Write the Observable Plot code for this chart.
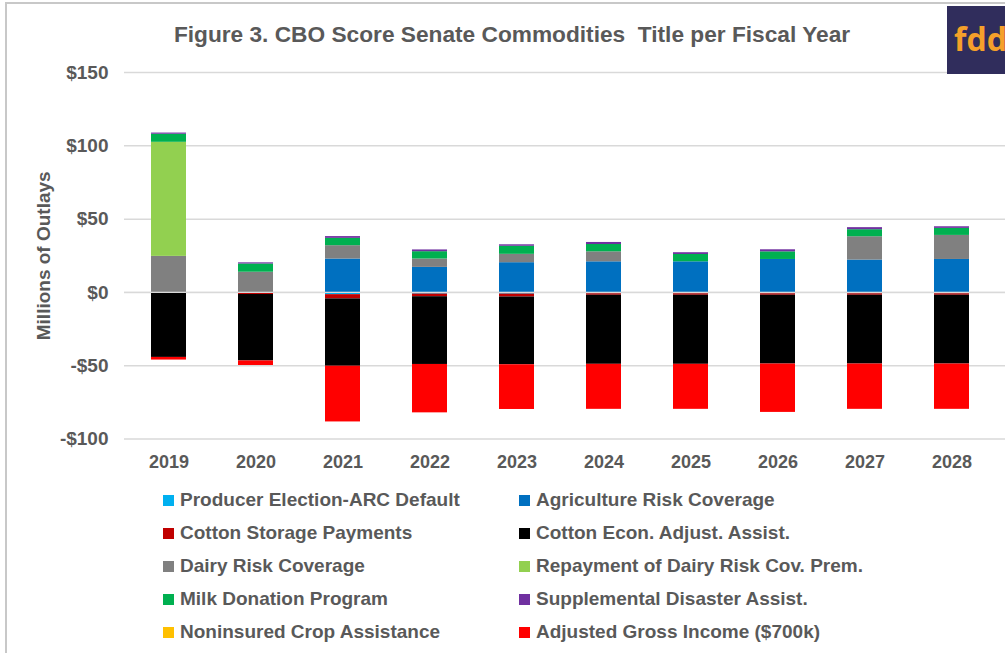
<!DOCTYPE html>
<html>
<head>
<meta charset="utf-8">
<script src="https://cdn.jsdelivr.net/npm/d3@7"></script>
<script src="https://cdn.jsdelivr.net/npm/@observablehq/plot@0.6"></script>
<style>
  html, body { margin: 0; padding: 0; background: #fff; }
  #wrap { position: relative; width: 1005px; height: 653px; overflow: hidden; background: #fff;
          font-family: "Liberation Sans", Arial, sans-serif; }
  #frame { position: absolute; left: 5px; top: 2px; width: 1100px; height: 700px;
           border-left: 2px solid #c8c8c8; border-top: 2px solid #c8c8c8; }
  #title { position: absolute; left: 0; width: 1024px; top: 21px; text-align: center;
           font-size: 22.7px; font-weight: bold; color: #595959; }
  #logo { position: absolute; left: 947px; top: 6px; width: 70px; height: 68px; background: #302D5C;
          color: #F5A02A; font-family: "Open Sans", sans-serif; font-weight: 700; font-size: 32px;
          line-height: 66px; padding-left: 7px; box-sizing: border-box; letter-spacing: 0px; }
  #chart { position: absolute; left: 0; top: 0; }
  .leg { position: absolute; font-size: 19px; font-weight: bold; color: #595959; white-space: nowrap; }
  .sw { position: absolute; width: 11px; height: 11px; }
</style>
</head>
<body>
<div id="wrap">
  <div id="frame"></div>
  <div id="chart"></div>
  <div id="title">Figure 3. CBO Score Senate Commodities&nbsp; Title per Fiscal Year</div>
  <div id="logo">fdd</div>
  <div id="legend"></div>
</div>
<script>
// ---- Data (millions of dollars of outlays) ----
const years = ["2019","2020","2021","2022","2023","2024","2025","2026","2027","2028"];
const producerElection   = [0, 0, -1.5, -1.1, -1.1, -0.9, -0.9, -0.9, -0.9, -0.9];
const agRiskCoverage     = [0, 0, 22.8, 17.1, 20.3, 20.9, 20.9, 22.5, 22.1, 22.5];
const cottonStorage      = [0, -1.4, -2.9, -1.8, -2.0, -1.0, -1.0, -1.0, -1.0, -1.0];
const cottonEconAdjust   = [-44.3, -45.3, -45.9, -46.2, -46.2, -47.1, -47.1, -46.9, -46.9, -46.9];
const dairyRiskCoverage  = [24.6, 13.8, 9.1, 5.7, 5.7, 6.8, 0, 0, 15.9, 16.4];
const dairyRepayment     = [77.8, 0, 0, 0, 0, 0, 0, 0, 0, 0];
const milkDonation       = [5.5, 5.6, 5.0, 5.0, 5.5, 5.0, 5.0, 5.2, 4.8, 4.8];
const supplementalDisaster = [0.8, 0.8, 1.2, 1.2, 1.0, 1.4, 1.2, 1.4, 1.4, 1.1];
const noninsuredCrop     = [0, 0, 0, 0, 0, 0, 0, 0, 0, 0];
const adjustedGrossIncome = [-1.8, -3.1, -38.0, -33.0, -30.5, -30.7, -30.7, -33.0, -30.9, -30.9];

const seriesNames = [
  "Producer Election-ARC Default", "Agriculture Risk Coverage",
  "Cotton Storage Payments", "Cotton Econ. Adjust. Assist.",
  "Dairy Risk Coverage", "Repayment of Dairy Risk Cov. Prem.",
  "Milk Donation Program", "Supplemental Disaster Assist.",
  "Noninsured Crop Assistance", "Adjusted Gross Income ($700k)"
];
const seriesValues = [producerElection, agRiskCoverage, cottonStorage, cottonEconAdjust,
  dairyRiskCoverage, dairyRepayment, milkDonation, supplementalDisaster, noninsuredCrop, adjustedGrossIncome];
const seriesColors = ["#00B0F0", "#0070C0", "#C00000", "#000000", "#808080",
  "#92D050", "#00B050", "#7030A0", "#FFC000", "#FF0000"];
const yTicks = [-100, -50, 0, 50, 100, 150];

const data = [];
seriesNames.forEach((s, i) => years.forEach((y, j) => data.push({year: y, series: s, value: seriesValues[i][j]})));

const fmt = d => d < 0 ? "-$" + (-d) : "$" + d;

const chart = Plot.plot({
  width: 1005,
  height: 485,
  marginTop: 72,
  marginBottom: 46.4,
  marginLeft: 124,
  marginRight: 0,
  x: {domain: years, range: [124, 996], paddingInner: 0.6, paddingOuter: 0.3, label: null},
  y: {domain: [-100, 150], label: null},
  color: {domain: seriesNames, range: seriesColors},
  style: {fontFamily: "'Liberation Sans', Arial, sans-serif", fontSize: "19px", fontWeight: "bold", color: "#595959", background: "transparent"},
  marks: [
    Plot.gridY(yTicks, {stroke: "#d9d9d9", strokeOpacity: 1, strokeWidth: 1.5}),
    Plot.barY(data, {x: "year", y: "value", fill: "series", order: seriesNames}),
    Plot.ruleY([0], {stroke: "#d9d9d9", strokeWidth: 1.2}),
    Plot.axisX({tickSize: 0, tickPadding: 16.5, fill: "#595959", fontSize: 18, label: null}),
    Plot.axisY(yTicks, {tickSize: 0, tickPadding: 16, tickFormat: fmt, fill: "#595959", fontSize: 19, label: null}),
    Plot.text(["Millions of Outlays"], {frameAnchor: "left", dx: -81, rotate: -90, textAnchor: "middle",
      fill: "#595959", fontSize: 19, fontWeight: "bold"})
  ]
});
document.getElementById("chart").appendChild(chart);

// Legend (two columns, row-major)
const legend = document.getElementById("legend");
const colX = [163, 519];
const rowY0 = 500, rowStep = 33;
seriesNames.forEach((s, i) => {
  const col = i % 2, row = Math.floor(i / 2);
  const cy = rowY0 + row * rowStep;
  const sw = document.createElement("div");
  sw.className = "sw";
  sw.style.left = colX[col] + "px";
  sw.style.top = (cy - 5.5) + "px";
  sw.style.background = seriesColors[i];
  legend.appendChild(sw);
  const t = document.createElement("div");
  t.className = "leg";
  t.style.left = (colX[col] + 17) + "px";
  t.style.top = (cy - 11.5) + "px";
  t.textContent = s;
  legend.appendChild(t);
});
</script>
</body>
</html>
